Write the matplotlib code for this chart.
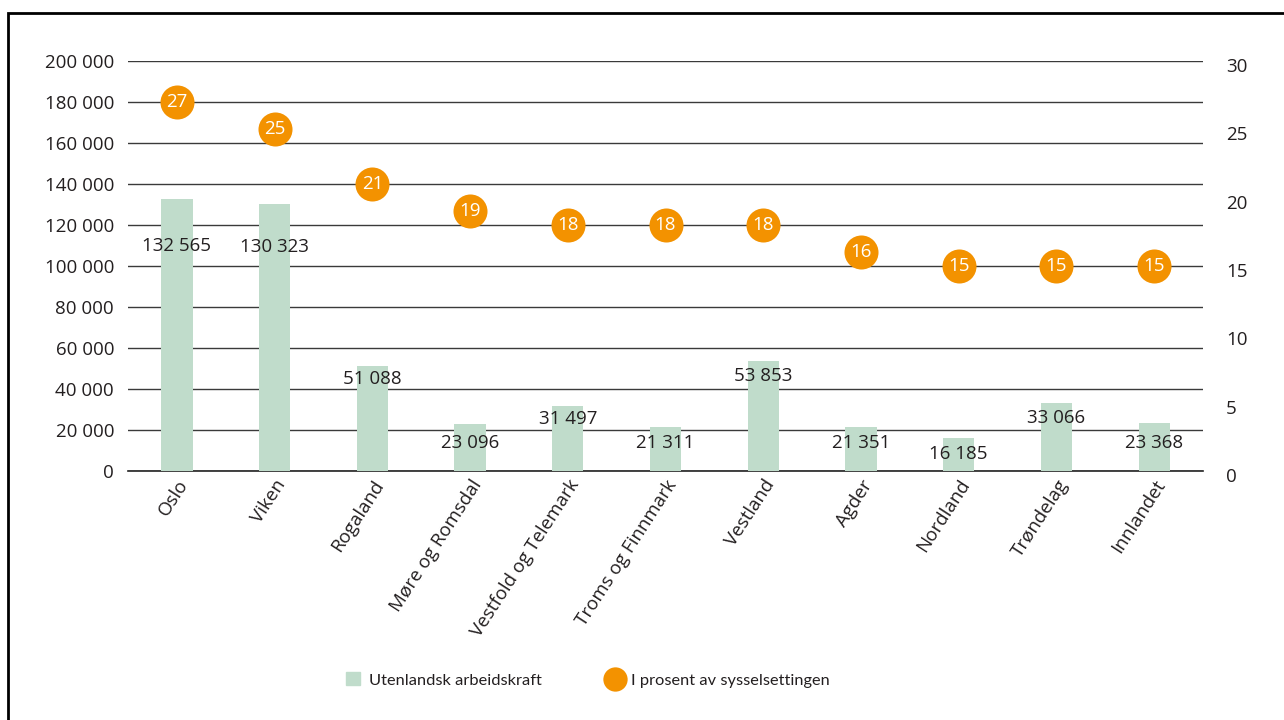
import matplotlib
import matplotlib.pyplot as plt
import matplotlib.patches as patches
import matplotlib.transforms as mtransforms
from matplotlib.lines import Line2D
import numpy as np

matplotlib.use('agg')

regions = ["Oslo", "Viken", "Rogaland", "Møre og Romsdal", "Vestfold og Telemark",
           "Troms og Finnmark", "Vestland", "Agder", "Nordland", "Trøndelag", "Innlandet"]
workers = [132565, 130323, 51088, 23096, 31497, 21311, 53853, 21351, 16185, 33066, 23368]
percent = [27, 25, 21, 19, 18, 18, 18, 16, 15, 15, 15]
left_ticks = [0, 20000, 40000, 60000, 80000, 100000, 120000, 140000, 160000, 180000, 200000]
right_ticks = [0, 5, 10, 15, 20, 25, 30]

bar_color = '#c0dccb'
dot_color = '#f39200'
text_color = '#231f20'
num_size = 13.5

plt.rcParams['font.family'] = ['Open Sans', 'DejaVu Sans']
plt.rcParams['font.size'] = num_size


def nor(v):
    return "{:,}".format(int(v)).replace(",", " ")


fig = plt.figure(figsize=(12.84, 7.2), dpi=100)
ax = fig.add_axes([128 / 1284, 1 - 471 / 720, (1203 - 128) / 1284, (471 - 61) / 720])
x = np.arange(len(regions))

ax.bar(x, workers, width=0.32, color=bar_color, zorder=2)
ax.set_xlim(-0.5, len(regions) - 0.5)
ax.set_ylim(0, 200000)
ax.set_yticks(left_ticks)
ax.set_yticklabels([nor(v) for v in left_ticks], color=text_color)
ax.yaxis.grid(True, color='#3a3a3a', linewidth=1.0, zorder=1)
ax.axhline(0, color='#222222', linewidth=1.2, clip_on=False, zorder=1)
ax.set_axisbelow(True)
ax.tick_params(axis='y', length=0, pad=10)
ax.tick_params(axis='x', length=0, pad=4)
for s in ax.spines.values():
    s.set_visible(False)
ax.set_xticks(x)
ax.set_xticklabels(regions, rotation=57, ha='right', rotation_mode='anchor',
                   color=text_color, fontsize=13.5)

# bar value labels (the two tall bars have their labels lower down)
label_dy = [-34, -31, -9, -14, -9, -11, -11, -11, -12, -11, -14]
for xi, v, dy in zip(x, workers, label_dy):
    ax.annotate(nor(v), (xi, v), xytext=(0, dy), textcoords='offset points',
                ha='center', va='center', color=text_color, zorder=4)

# percentages on the right scale
ax2 = ax.twinx()
ax2.set_ylim(0, 30)
ax2.set_yticks(right_ticks)
ax2.set_yticklabels([str(v) for v in right_ticks], color=text_color)
ax2.tick_params(axis='y', length=0, pad=16.5)
for s in ax2.spines.values():
    s.set_visible(False)
shift = mtransforms.ScaledTranslation(0, -4 / 100, fig.dpi_scale_trans)
for lab in ax2.get_yticklabels():
    lab.set_transform(lab.get_transform() + shift)

ax2.plot(x, percent, 'o', color=dot_color, markersize=24.5, markeredgewidth=0, zorder=5)
for xi, p in zip(x, percent):
    ax2.text(xi, p, str(p), ha='center', va='center', color='white', zorder=6)

# legend
handles = [patches.Patch(color=bar_color, label='Utenlandsk arbeidskraft'),
           Line2D([], [], marker='o', linestyle='none', color=dot_color, markersize=17.5,
                  markeredgewidth=0, label='I prosent av sysselsettingen')]
fig.legend(handles=handles, loc='center', bbox_to_anchor=(588 / 1284, 1 - 680 / 720), ncol=2,
           frameon=False, columnspacing=4.0, handlelength=0.85, handleheight=0.85,
           handletextpad=0.55, labelcolor=text_color,
           prop={'family': ['Lato', 'DejaVu Sans'], 'size': 11.8})

# frame around the figure
fig.patches.append(patches.Rectangle((8 / 1284, -0.05), 1.2, 1 - 13 / 720 + 0.05, fill=False,
                                     linewidth=2, edgecolor='black', transform=fig.transFigure))

plt.savefig('out.png', dpi=100)
plt.close()
